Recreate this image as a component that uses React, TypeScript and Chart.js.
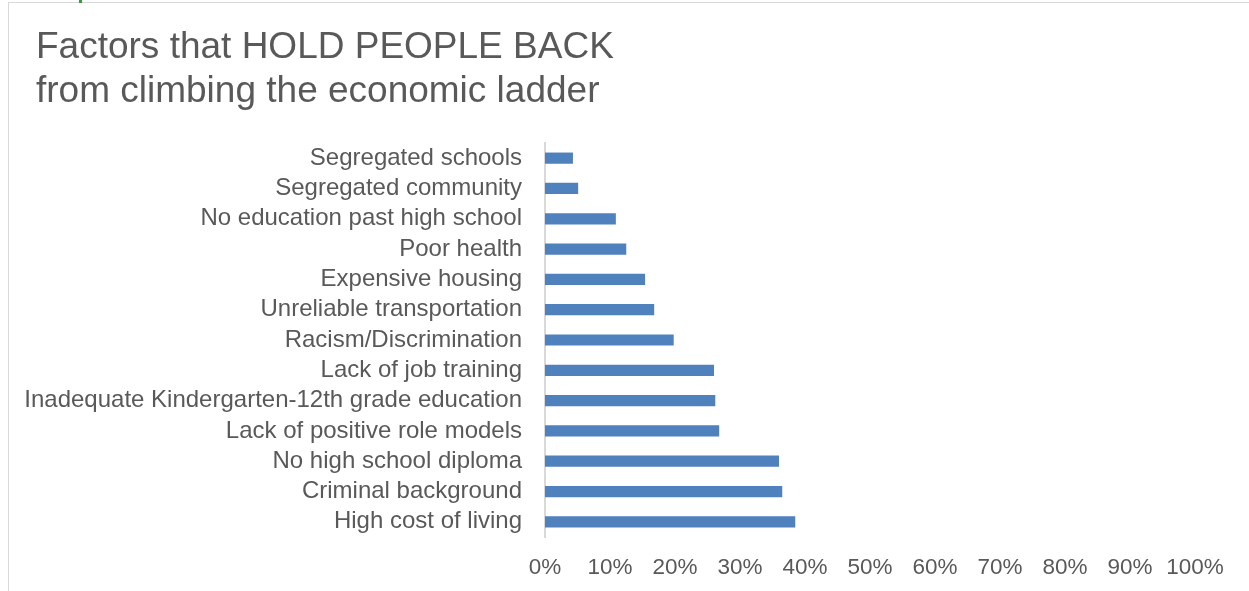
import React, { useEffect, useRef } from "react";
import { Chart, registerables } from "chart.js";

Chart.register(...registerables);

const categories = [
  "Segregated schools",
  "Segregated community",
  "No education past high school",
  "Poor health",
  "Expensive housing",
  "Unreliable transportation",
  "Racism/Discrimination",
  "Lack of job training",
  "Inadequate Kindergarten-12th grade education",
  "Lack of positive role models",
  "No high school diploma",
  "Criminal background",
  "High cost of living",
];

const values = [4.3, 5.1, 10.9, 12.5, 15.4, 16.8, 19.8, 26.0, 26.2, 26.8, 36.0, 36.5, 38.5];

const titleLines = ["Factors that HOLD PEOPLE BACK", "from climbing the economic ladder"];

const FONT = "'Liberation Sans', Arial, sans-serif";
const TEXT = "#595959";

export default function App() {
  const ref = useRef<HTMLCanvasElement | null>(null);

  useEffect(() => {
    if (!ref.current) return;
    const chart = new Chart(ref.current, {
      type: "bar",
      data: {
        labels: categories,
        datasets: [
          {
            data: values,
            backgroundColor: "#4f81bd",
            borderWidth: 0,
            categoryPercentage: 1,
            barPercentage: 0.37,
          },
        ],
      },
      options: {
        indexAxis: "y",
        animation: false,
        responsive: false,
        maintainAspectRatio: false,
        layout: { padding: { top: 143, right: 54, left: 0, bottom: 0 } },
        plugins: {
          legend: { display: false },
          tooltip: { enabled: false },
          title: { display: false },
        },
        scales: {
          x: {
            min: 0,
            max: 100,
            grid: { display: false },
            border: { display: false },
            afterFit: (s: any) => {
              s.height = 54;
            },
            ticks: {
              stepSize: 10,
              padding: 9,
              color: TEXT,
              font: { family: FONT, size: 22.5 },
              maxRotation: 0,
              autoSkip: false,
              callback: (v: any) => v + "%",
            },
          },
          y: {
            grid: { display: false },
            border: { display: true, color: "#d9d9d9", width: 2 },
            afterFit: (s: any) => {
              s.width = 545;
            },
            ticks: {
              padding: 15,
              color: TEXT,
              autoSkip: false,
              font: { family: FONT, size: 24 },
            },
          },
        },
      },
    });
    return () => chart.destroy();
  }, []);

  return (
    <div
      style={{
        position: "fixed",
        left: 0,
        top: 0,
        width: 1249,
        height: 591,
        overflow: "hidden",
        background: "#fff",
      }}
    >
      <div
        style={{
          position: "absolute",
          left: 8,
          top: 2,
          width: 1400,
          height: 800,
          borderTop: "1px solid #d9d9d9",
          borderLeft: "1px solid #d9d9d9",
        }}
      />
      <div style={{ position: "absolute", left: 79, top: 0, width: 3, height: 3, background: "#2e9e3e" }} />
      <canvas ref={ref} width={1249} height={591} style={{ position: "absolute", left: 0, top: 0 }} />
      <div
        style={{
          position: "absolute",
          left: 36,
          top: 24,
          fontFamily: FONT,
          fontSize: 37,
          lineHeight: "44px",
          color: TEXT,
          whiteSpace: "nowrap",
        }}
      >
        {titleLines.map((l, i) => (
          <div key={i}>{l}</div>
        ))}
      </div>
    </div>
  );
}
